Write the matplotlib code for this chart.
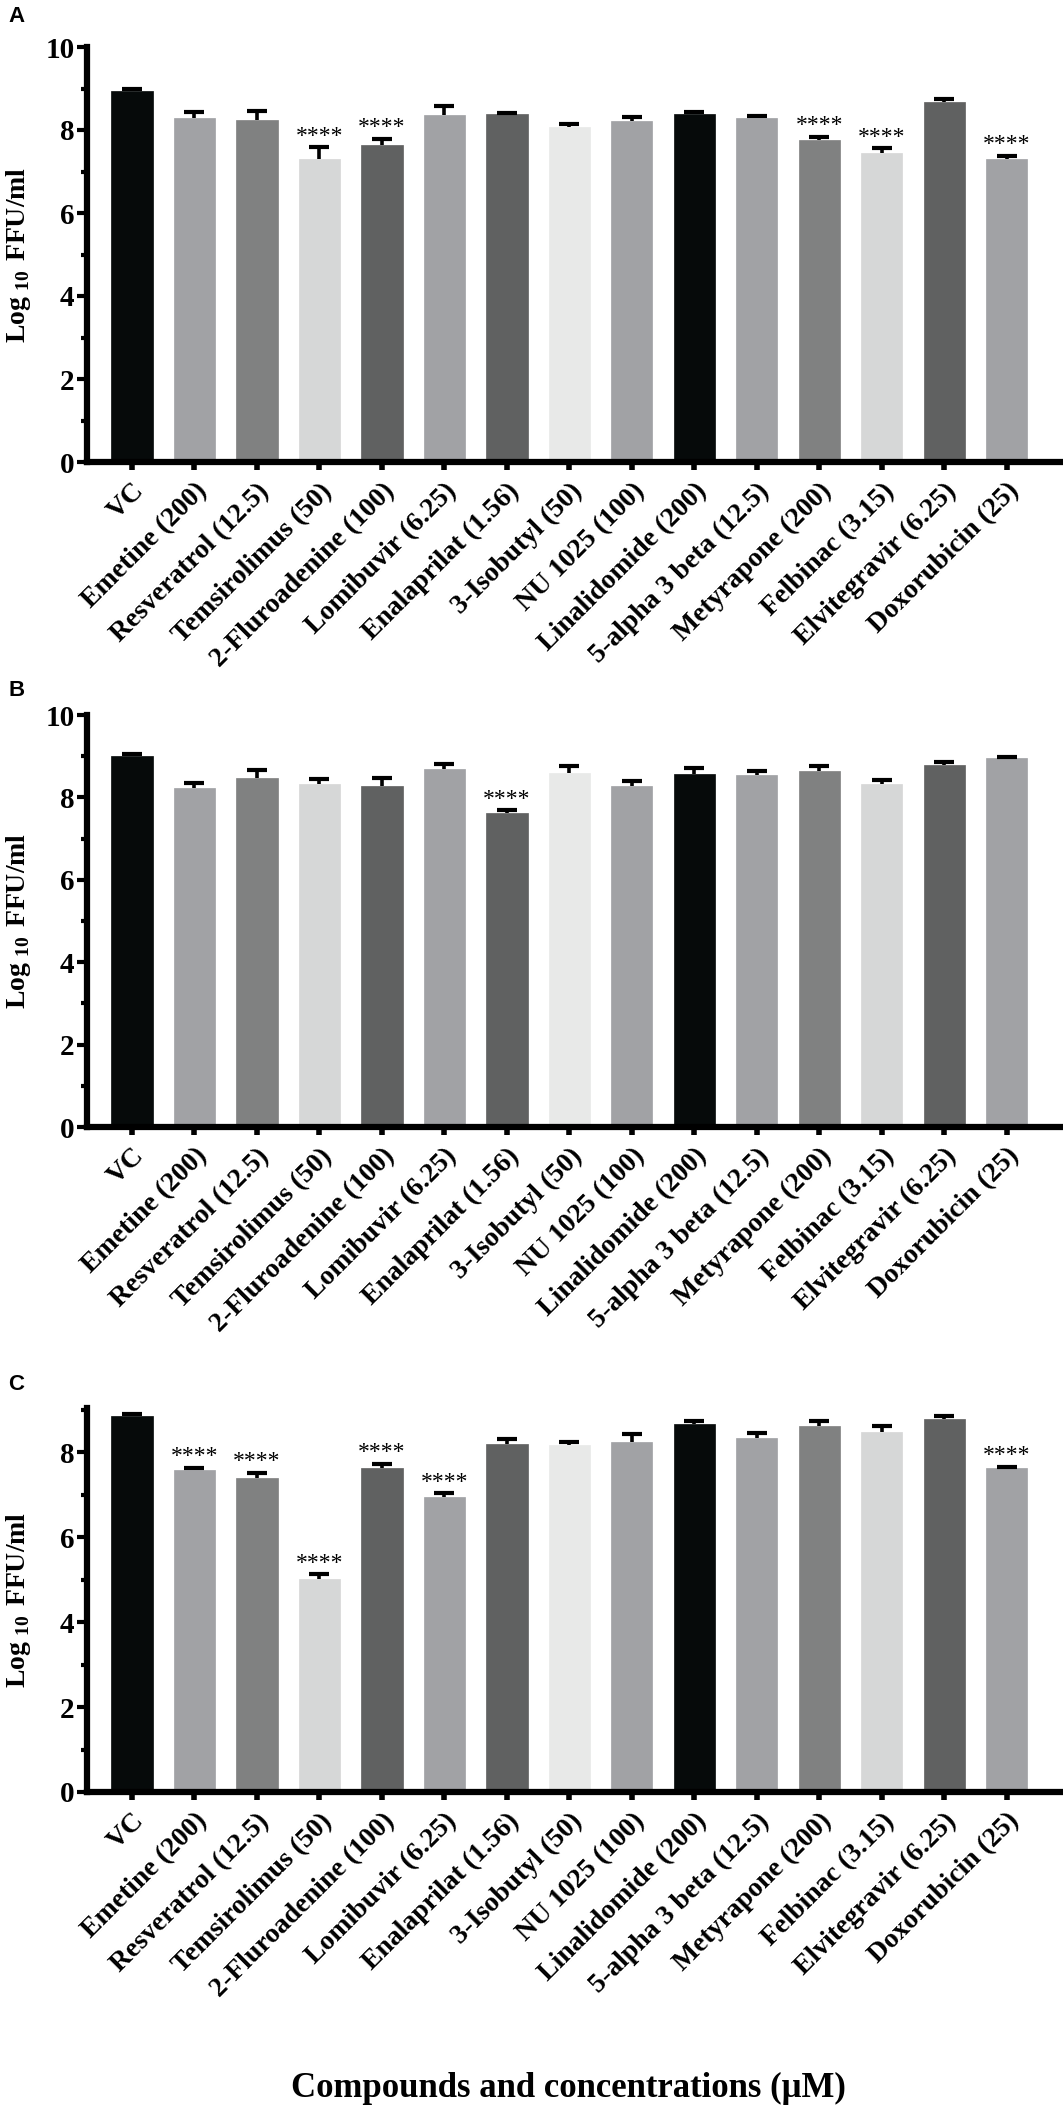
import matplotlib
matplotlib.use("Agg")
import matplotlib.pyplot as plt
from matplotlib.ticker import MultipleLocator

plt.rcParams['font.family'] = ['Liberation Serif', 'DejaVu Serif']
plt.rcParams['mathtext.fontset'] = 'custom'
plt.rcParams['mathtext.rm'] = 'Liberation Serif'
plt.rcParams['mathtext.bf'] = 'Liberation Serif:bold'

# --- data ---
compounds = ['VC', 'Emetine (200)', 'Resveratrol (12.5)', 'Temsirolimus (50)',
             '2-Fluroadenine (100)', 'Lomibuvir (6.25)', 'Enalaprilat (1.56)',
             '3-Isobutyl (50)', 'NU 1025 (100)', 'Linalidomide (200)',
             '5-alpha 3 beta (12.5)', 'Metyrapone (200)', 'Felbinac (3.15)',
             'Elvitegravir (6.25)', 'Doxorubicin (25)']

a_mean = [8.95, 8.28, 8.24, 7.30, 7.65, 8.35, 8.38, 8.07, 8.22, 8.38, 8.29, 7.75, 7.44, 8.68, 7.30]
a_err = [0.05, 0.15, 0.22, 0.28, 0.14, 0.23, 0.04, 0.07, 0.09, 0.05, 0.04, 0.08, 0.12, 0.06, 0.08]
a_sig = [3, 4, 11, 12, 14]

b_mean = [9.00, 8.24, 8.47, 8.32, 8.28, 8.69, 7.61, 8.59, 8.27, 8.58, 8.54, 8.63, 8.33, 8.79, 8.95]
b_err = [0.06, 0.11, 0.20, 0.13, 0.19, 0.11, 0.08, 0.17, 0.13, 0.13, 0.11, 0.14, 0.10, 0.06, 0.02]
b_sig = [6]

c_mean = [8.84, 7.57, 7.39, 5.01, 7.63, 6.95, 8.20, 8.18, 8.25, 8.66, 8.34, 8.62, 8.47, 8.77, 7.63]
c_err = [0.06, 0.06, 0.13, 0.12, 0.10, 0.08, 0.10, 0.07, 0.18, 0.08, 0.10, 0.11, 0.15, 0.07, 0.03]
c_sig = [1, 2, 3, 4, 5, 14]

# bar shades (same cycle in every panel)
k, g1, g2, g3, g4, g5 = '#060a0a', '#a1a2a5', '#808181', '#d6d7d7', '#606161', '#e8e9e8'
shades = [k, g1, g2, g3, g4, g1, g4, g5, g1, k, g1, g2, g3, g4, g1]

W, H = 1063, 2108
fig = plt.figure(figsize=(W / 100, H / 100), dpi=100)

# (top px, bottom px, ymax, panel letter, letter y px, data...)
panels = [
    (47, 462, 10, 'A', 17, a_mean, a_err, a_sig),
    (715, 1127, 10, 'B', 690, b_mean, b_err, b_sig),
    (1408, 1792, 9.04, 'C', 1384, c_mean, c_err, c_sig),
]

left = 87
x = list(range(len(compounds)))

for top, bot, ymax, letter, ly, mean, err, sig in panels:
    ax = fig.add_axes([left / W, 1 - bot / H, 1 - left / W, (bot - top) / H])
    ax.bar(x, mean, width=0.66, color=shades, edgecolor=shades, linewidth=0.5, zorder=2)
    eb = ax.errorbar(x, mean, yerr=[[0] * len(mean), err], fmt='none', ecolor='black',
                     elinewidth=2.6, capsize=7, capthick=3, zorder=3)
    eb[1][0].set_visible(False)  # upper-only error bars
    for i in sig:
        ax.annotate('****', (i, mean[i] + err[i]), xytext=(0, 4), textcoords='offset points',
                    ha='center', va='baseline', fontsize=17)

    ax.set_xlim(-0.72, 14.9)
    ax.set_ylim(0, ymax)
    ax.yaxis.set_major_locator(MultipleLocator(2))
    ax.yaxis.set_minor_locator(MultipleLocator(1))
    ax.set_xticks(x)
    ax.set_xticklabels(compounds, rotation=45, ha='right', rotation_mode='anchor',
                       fontsize=20, fontweight='bold')
    for lab in ax.get_yticklabels():
        lab.set_fontweight('bold')
    ax.tick_params(axis='y', which='major', length=7, width=3, labelsize=21, pad=2)
    ax.tick_params(axis='y', which='minor', length=4, width=3)
    ax.tick_params(axis='x', length=6, width=4, pad=6)

    for side in ['top', 'right']:
        ax.spines[side].set_visible(False)
    for side in ['left', 'bottom']:
        ax.spines[side].set_linewidth(4.5)

    ax.set_ylabel(r'$\mathbf{Log}_{\ \mathbf{10}}\ \mathbf{FFU/ml}$', fontsize=20)
    ax.yaxis.set_label_coords(-0.055, 0.5)

    fig.text(8 / W, 1 - ly / H, letter, fontsize=16, fontweight='bold',
             family='Liberation Sans', ha='left', va='center')

fig.text(0.535, 1 - 2088 / H, 'Compounds and concentrations (\u03bcM)',
         fontsize=25, fontweight='bold', ha='center', va='center')

fig.savefig('out.png', dpi=100)
